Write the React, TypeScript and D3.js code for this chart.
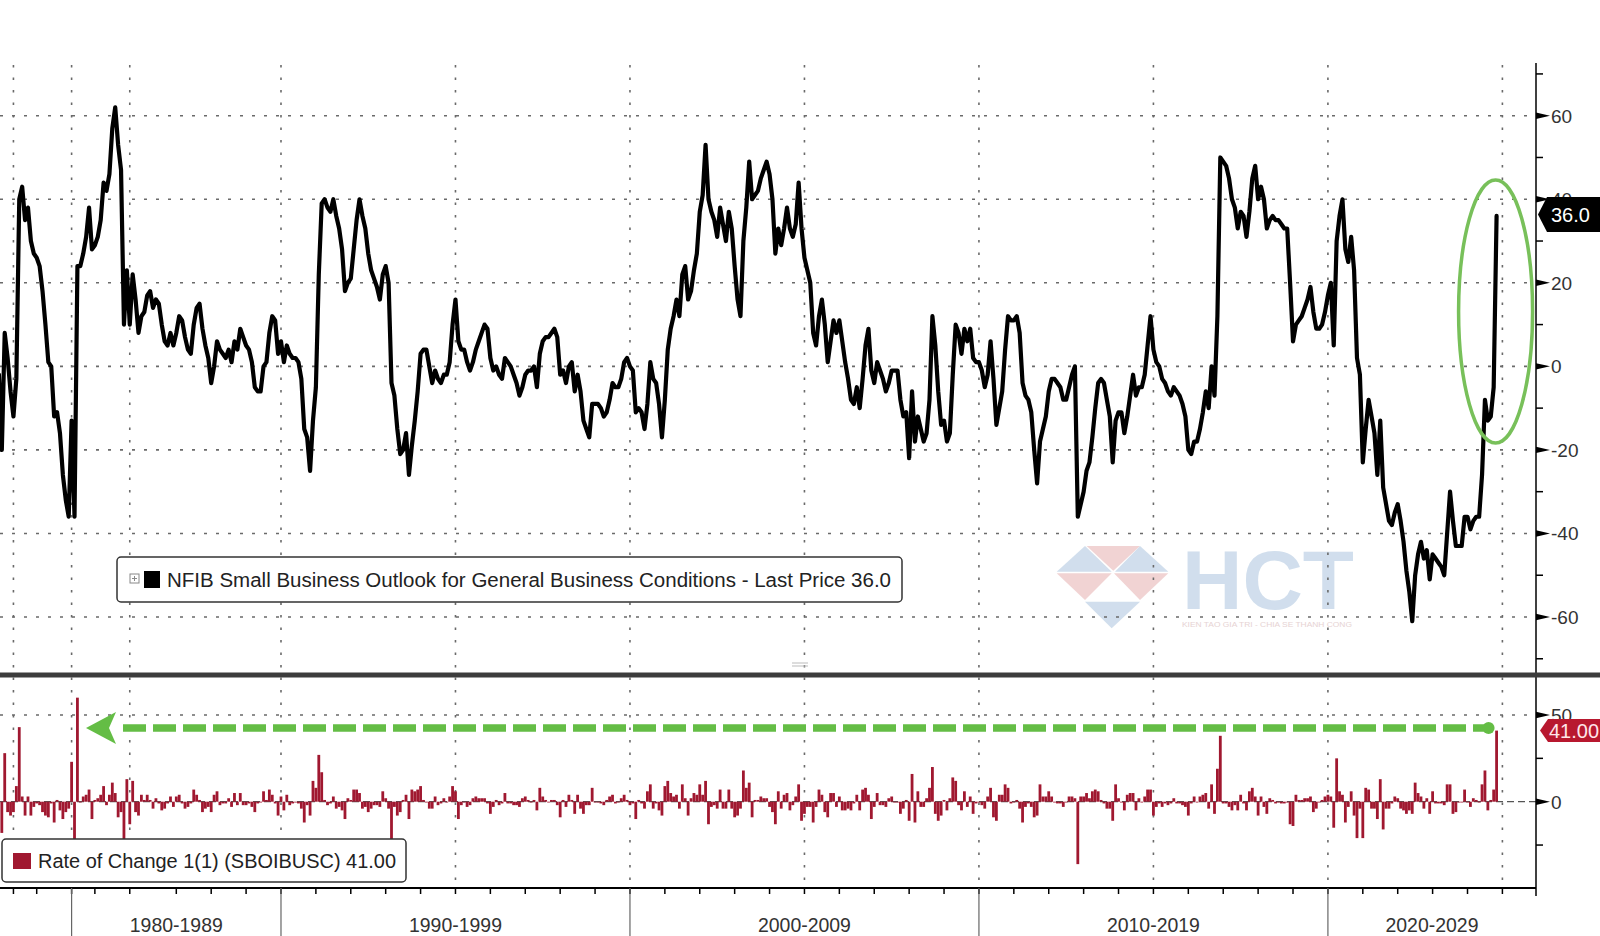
import React from 'react';
import * as d3 from 'd3';

// NFIB Small Business Outlook for General Business Conditions (net %)
// quarterly 1973Q4 .. 1985Q4
const quarterly1973to1985 = [
  -2,
  -20, 8, 2, -6,
  -12, -3, 40, 43,
  35, 38, 30, 27,
  26, 24, 18, 10,
  1, 0, -12, -11,
  -16, -26, -32, -36,
  -13, -36, 24, 24,
  27, 31, 38, 28,
  29, 31, 35, 44,
  42, 46, 57, 62,
  53, 47, 10, 23,
  10, 22, 16, 8,
];
// monthly from Jan 1986
const monthly1986to1989 = [
  12, 13, 17, 18, 14, 16, 15, 10, 6, 5, 8, 5,
  8, 12, 11, 7, 4, 3, 10, 14, 15, 9, 5, 2,
  -4, 0, 6, 4, 3, 2, 4, 1, 6, 4, 9, 7,
  5, 4, 1, -5, -6, -6, 0, 1, 8, 12, 11, 3,
];
const monthly1990s = [
  6, 1, 5, 3, 2, 2, 1, -3, -15, -17, -25, -13,
  -5, 22, 39, 40, 38, 37, 40, 36, 33, 28, 18, 20,
  21, 28, 35, 40, 36, 33, 27, 23, 21, 19, 16, 22,
  24, 20, -4, -7, -15, -21, -20, -16, -26, -19, -13, -6,
  3, 4, 4, 0, -4, -1, -3, -4, -2, -2, 1, 10,
  16, 6, 4, 4, 1, -1, 1, 4, 6, 8, 10, 9,
  2, -1, 0, -2, -3, 2, 1, 0, -2, -4, -7, -5,
  -2, -1, -1, 0, -5, 3, 6, 7, 7, 8, 9, 7,
  -2, -1, -4, 0, 1, -6, -2, -6, -13, -15, -17, -9,
  -9, -9, -10, -12, -11, -8, -4, -5, -5, -3, 1, 2,
];
const monthly2000s = [
  0, -1, -11, -10, -11, -15, -9, 1, -3, -4, -9, -17,
  -8, 4, 9, 12, 16, 12, 22, 24, 16, 18, 23, 27,
  37, 41, 53, 40, 37, 35, 31, 38, 34, 30, 37, 33,
  24, 16, 12, 30, 38, 49, 40, 41, 42, 45, 47, 49,
  46, 40, 27, 33, 29, 33, 38, 33, 31, 34, 44, 33,
  26, 23, 20, 8, 5, 12, 16, 10, 1, 6, 11, 8,
  11, 6, 1, -3, -8, -9, -5, -10, -3, 5, 9, -1,
  -4, 1, -1, -3, -6, -4, -1, -1, -1, -8, -12, -11,
  -22, -6, -18, -12, -15, -18, -16, -8, 12, 5, -6, -14,
  -13, -18, -16, -2, 10, 8, 3, 9, 6, 9, 2, 1,
];
const monthly2010s = [
  1, -1, -5, -2, 6, -3, -14, -10, -6, 4, 12, 11,
  11, 12, 8, -4, -7, -8, -11, -20, -28, -18, -15, -12,
  -6, -3, -3, -4, -5, -8, -8, -5, -2, 0, -36, -33,
  -30, -25, -23, -17, -10, -4, -3, -4, -8, -12, -23, -13,
  -11, -11, -16, -12, -7, -2, -7, -5, -5, -2, 5, 12,
  4, 1, 0, -3, -4, -6, -7, -5, -6, -7, -9, -12,
  -20, -21, -18, -18, -15, -11, -6, -10, 0, -7, 12, 50,
  49, 48, 45, 40, 38, 33, 37, 36, 31, 37, 45, 48,
  40, 43, 40, 33, 35, 36, 35, 35, 34, 33, 33, 20,
  6, 10, 11, 12, 14, 16, 19, 13, 9, 9, 10, 13,
];
const monthly2020s = [
  17, 20, 5, 30, 36, 40, 28, 25, 31, 23, 2, -2,
  -23, -15, -8, -12, -16, -26, -13, -29, -33, -37, -38, -35,
  -33, -37, -42, -49, -54, -61, -50, -45, -42, -46, -44, -51,
  -45, -46, -47, -48, -50, -40, -30, -37, -43, -43, -43, -36,
  -36, -39, -37, -36, -36, -26, -8, -13, -12, -5, 36,
];

const topTicks = [-60, -40, -20, 0, 20, 40, 60];
const topMinorTicks = [-70, -50, -30, -10, 10, 30, 50, 70];
const bottomTicks = [0, 50];
const bottomMinorTicks = [-25, 25];
const gridYears = [1975, 1980, 1985, 1990, 1995, 2000, 2005, 2010, 2015, 2020, 2025];
const tickYears = [1975, 1977, 1980, 1982, 1985, 1987, 1988, 1989, 1990, 1991, 1992, 1993, 1994, 1995, 1996, 1997, 1998, 1999, 2000, 2001, 2002, 2003, 2004, 2005, 2006, 2007, 2008, 2009, 2010, 2011, 2012, 2013, 2014, 2015, 2016, 2017, 2018, 2019, 2020, 2021, 2022, 2023, 2024, 2025];
const decadeStarts = [1980, 1990, 2000, 2010, 2020];
const decadeLabels = ['1980-1989', '1990-1999', '2000-2009', '2010-2019', '2020-2029'];
const seriesName = 'NFIB Small Business Outlook for General Business Conditions - Last Price 36.0';
const changeName = 'Rate of Change 1(1) (SBOIBUSC) 41.00';
const lastPriceLabel = '36.0';
const lastChangeLabel = '41.00';

const values: number[] = [
  ...quarterly1973to1985,
  ...monthly1986to1989,
  ...monthly1990s,
  ...monthly2000s,
  ...monthly2010s,
  ...monthly2020s,
];

function yearIndex(y: number) {
  if (y <= 1985) return (y - 1974) * 4 + 1;
  return 49 + (y - 1986) * 12;
}

const FONT = '"Liberation Sans", Arial, sans-serif';

export default function App() {
  React.useEffect(() => {
    document.body.style.margin = '0';
  }, []);

  const W = 1600, H = 936;
  const axisX = 1536;
  const x = d3.scaleLinear().domain([0, 517]).range([-1.1, 1502.4]);
  const yT = d3.scaleLinear().domain([-60, 60]).range([617, 115.7]);
  const yB = d3.scaleLinear().domain([0, 50]).range([801.7, 715]);

  const pts = values.map((v, i) => ({ i, v }));
  const changes = values.slice(1).map((v, k) => ({ i: k + 1, v: v - values[k] }));
  const lastPt = pts[pts.length - 1];

  const line = d3.line<{ i: number; v: number }>().x(d => x(d.i)).y(d => yT(d.v));

  const gridColor = '#6a6a6a';
  const topPanel = { y0: 63, y1: 673 };
  const botPanel = { y0: 678, y1: 887 };
  const xAxisY = 888;

  const sepX = decadeStarts.map(y => x(yearIndex(y)));
  const labelX = decadeStarts.map((y, k) => {
    const a = sepX[k];
    const b = k < sepX.length - 1 ? sepX[k + 1] : axisX;
    return (a + b) / 2;
  });

  const ellipseCx = x(lastPt.i) - 1;
  const arrowY = yB(42.5);

  return (
    <svg width={W} height={H} style={{ display: 'block', position: 'absolute', left: 0, top: 0, background: '#fff' }}>
      <defs>
        <clipPath id="clipTop"><rect x={0} y={topPanel.y0} width={axisX} height={topPanel.y1 - topPanel.y0} /></clipPath>
        <clipPath id="clipBot"><rect x={0} y={botPanel.y0} width={axisX} height={botPanel.y1 - botPanel.y0} /></clipPath>
      </defs>
      <rect x={0} y={0} width={W} height={H} fill="#fff" />

      {/* watermark */}
      <g opacity={0.85}>
        <polygon points="1056.7,571.7 1085,546 1111.7,571.7" fill="#c9d9ea" />
        <polygon points="1086.7,546 1140,546 1113.3,570.7" fill="#efcccc" />
        <polygon points="1115,571.7 1140,546 1168.3,571.7" fill="#c9d9ea" />
        <polygon points="1056.7,573.3 1111.7,573.3 1085,600" fill="#efcccc" />
        <polygon points="1114,573.3 1168.3,573.3 1140,600" fill="#efcccc" />
        <polygon points="1085,601.7 1140,601.7 1111.7,628.3" fill="#c9d9ea" />
        <text x={1182} y={609} fontFamily={FONT} fontWeight="bold" fontSize={84} fill="#c9d9ea" textLength={172} lengthAdjust="spacingAndGlyphs">HCT</text>
        <text x={1182} y={627} fontFamily={FONT} fontSize={8} fill="#e3cccc" textLength={170} lengthAdjust="spacingAndGlyphs">KIEN TAO GIA TRI - CHIA SE THANH CONG</text>
      </g>

      {/* vertical grid */}
      {gridYears.map(y => (
        <line key={'vg' + y} x1={x(yearIndex(y))} x2={x(yearIndex(y))} y1={65} y2={xAxisY}
          stroke={gridColor} strokeWidth={1.6} strokeDasharray="2.5,10" />
      ))}
      {/* horizontal grid top */}
      {topTicks.map(t => (
        <line key={'hg' + t} x1={0} x2={axisX} y1={yT(t)} y2={yT(t)} stroke={gridColor} strokeWidth={1.6} strokeDasharray="3,9" />
      ))}
      {/* bottom grid */}
      <line x1={0} x2={axisX} y1={yB(50)} y2={yB(50)} stroke={gridColor} strokeWidth={1.6} strokeDasharray="3,9" />
      <line x1={0} x2={axisX} y1={yB(0)} y2={yB(0)} stroke="#555" strokeWidth={1.3} strokeDasharray="7,4" />

      {/* bars */}
      <g clipPath="url(#clipBot)">
        {changes.map(d => (
          <rect key={'b' + d.i} x={x(d.i) - 1.4} width={2.8}
            y={Math.min(yB(d.v), yB(0))} height={Math.max(0.8, Math.abs(yB(d.v) - yB(0)))}
            fill="#a01830" />
        ))}
      </g>

      {/* main line */}
      <g clipPath="url(#clipTop)">
        <path d={line(pts) || ''} fill="none" stroke="#000" strokeWidth={4.2} strokeLinejoin="round" strokeLinecap="round" />
      </g>

      {/* right axis */}
      <line x1={axisX} x2={axisX} y1={63} y2={xAxisY + 8} stroke="#000" strokeWidth={1.5} />
      {topMinorTicks.map(t => (
        <line key={'tm' + t} x1={axisX} x2={axisX + 7} y1={yT(t)} y2={yT(t)} stroke="#000" strokeWidth={1.5} />
      ))}
      {topTicks.map(t => (
        <g key={'tt' + t}>
          <polygon points={`${axisX},${yT(t) - 3.2} ${axisX + 14},${yT(t)} ${axisX},${yT(t) + 3.2}`} fill="#000" />
          <text x={1551} y={yT(t) + 7} fontFamily={FONT} fontSize={19} fill="#333">{t}</text>
        </g>
      ))}
      {bottomMinorTicks.map(t => (
        <line key={'bm' + t} x1={axisX} x2={axisX + 7} y1={yB(t)} y2={yB(t)} stroke="#000" strokeWidth={1.5} />
      ))}
      {bottomTicks.map(t => (
        <g key={'bt' + t}>
          <polygon points={`${axisX},${yB(t) - 3.2} ${axisX + 14},${yB(t)} ${axisX},${yB(t) + 3.2}`} fill="#000" />
          <text x={1551} y={yB(t) + 7} fontFamily={FONT} fontSize={19} fill="#333">{t}</text>
        </g>
      ))}

      {/* panel separator */}
      <rect x={0} y={672.5} width={W} height={5} fill="#3c3c3c" />
      <line x1={792} x2={808} y1={663} y2={663} stroke="#bbb" strokeWidth={1} />
      <line x1={792} x2={808} y1={666} y2={666} stroke="#bbb" strokeWidth={1} />

      {/* x axis */}
      <line x1={0} x2={axisX} y1={xAxisY} y2={xAxisY} stroke="#000" strokeWidth={1.8} />
      {tickYears.map(y => (
        <line key={'xt' + y} x1={x(yearIndex(y))} x2={x(yearIndex(y))} y1={xAxisY} y2={xAxisY + 6} stroke="#000" strokeWidth={1.5} />
      ))}
      {sepX.map((sx, k) => (
        <line key={'sep' + k} x1={sx} x2={sx} y1={xAxisY} y2={H} stroke="#666" strokeWidth={1.2} />
      ))}
      {decadeLabels.map((lab, k) => (
        <text key={lab} x={labelX[k]} y={932} textAnchor="middle" fontFamily={FONT} fontSize={20} fill="#333"
          textLength={93} lengthAdjust="spacingAndGlyphs">{lab}</text>
      ))}

      {/* top legend */}
      <rect x={117} y={557} width={785} height={45} rx={4} fill="#fff" stroke="#333" strokeWidth={1.5} />
      <rect x={130} y={574} width={9} height={9} fill="#fff" stroke="#888" strokeWidth={1} />
      <line x1={132} x2={137} y1={578.5} y2={578.5} stroke="#888" strokeWidth={1} />
      <line x1={134.5} x2={134.5} y1={576} y2={581} stroke="#888" strokeWidth={1} />
      <rect x={144} y={571} width={16} height={17} fill="#000" />
      <text x={167} y={587} fontFamily={FONT} fontSize={20} fill="#222" textLength={724} lengthAdjust="spacingAndGlyphs">{seriesName}</text>

      {/* bottom legend */}
      <rect x={2} y={839} width={404} height={43} rx={4} fill="#fff" stroke="#333" strokeWidth={1.5} />
      <rect x={13} y={853} width={18} height={16} fill="#a01830" />
      <text x={38} y={868} fontFamily={FONT} fontSize={20} fill="#222" textLength={358} lengthAdjust="spacingAndGlyphs">{changeName}</text>

      {/* green ellipse */}
      <ellipse cx={ellipseCx} cy={311.5} rx={37} ry={131.5} fill="none" stroke="#78c05a" strokeWidth={3.5} />

      {/* green dashed arrow */}
      <line x1={123} x2={x(lastPt.i) - 8} y1={arrowY} y2={arrowY} stroke="#64bd45" strokeWidth={7.5} strokeDasharray="23,7" />
      <polygon points={`86,${arrowY} 116,${arrowY - 16} 109,${arrowY} 116,${arrowY + 16}`} fill="#64bd45" />
      <circle cx={x(lastPt.i) - 8} cy={arrowY} r={6} fill="#64bd45" />

      {/* last price tags */}
      <polygon points={`1547,197 ${W},197 ${W},232 1547,232 1538,214.5`} fill="#000" />
      <text x={1551} y={221.5} fontFamily={FONT} fontSize={20} fill="#fff">{lastPriceLabel}</text>
      <polygon points={`1548,719 ${W},719 ${W},742 1548,742 1540,730.5`} fill="#b8182f" />
      <text x={1549} y={738} fontFamily={FONT} fontSize={20} fill="#ffe6ea">{lastChangeLabel}</text>
    </svg>
  );
}
